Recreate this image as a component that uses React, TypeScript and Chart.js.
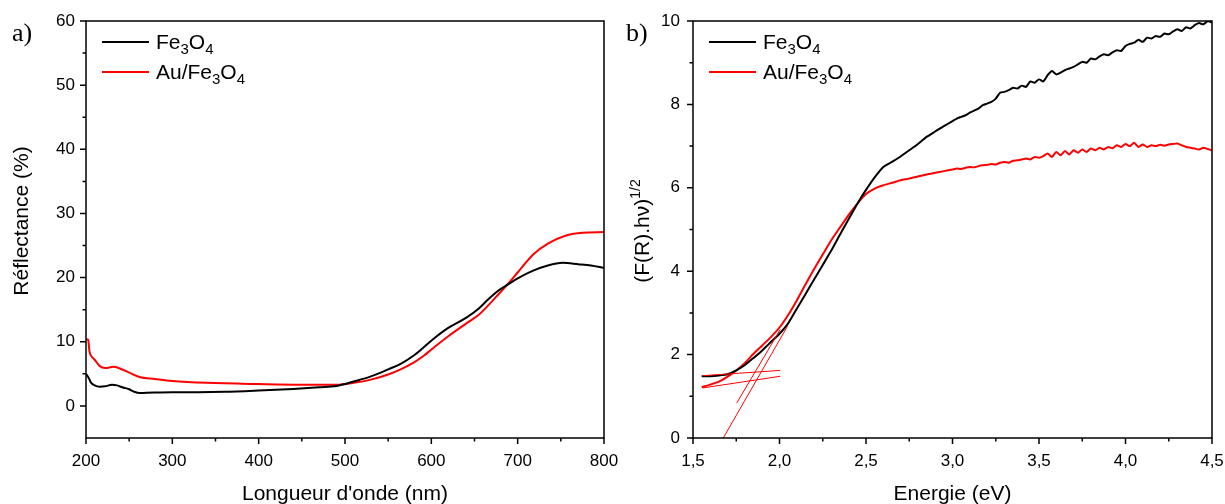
import React, { useEffect, useRef } from 'react';
import { Chart, registerables } from 'chart.js';
Chart.register(...registerables);

const FONT = "'Liberation Sans', Arial, sans-serif";
const SERIF = "'Liberation Serif', 'Times New Roman', serif";

// ---------- Panel a) : Reflectance ----------
const waveFe = [200, 203, 206, 210, 216, 222, 230, 236, 242, 250, 256, 262, 270, 280, 300, 330, 360, 400, 440, 470, 490, 510, 530, 550, 565, 580, 590, 602, 620, 641, 655, 665, 676, 686, 700, 718, 735, 752, 770, 785, 800];
const reflFe = [5.0, 4.4, 3.6, 3.2, 3.0, 3.05, 3.3, 3.2, 2.9, 2.6, 2.2, 2.0, 2.05, 2.1, 2.15, 2.15, 2.2, 2.4, 2.65, 2.9, 3.1, 3.8, 4.6, 5.7, 6.6, 7.9, 9.0, 10.4, 12.2, 13.8, 15.2, 16.5, 17.8, 18.7, 19.9, 21.1, 21.9, 22.3, 22.1, 21.9, 21.5];
const waveAu = [200, 202.5, 204, 206, 210, 216, 222, 232, 240, 250, 262, 280, 300, 340, 400, 450, 490, 510, 530, 550, 565, 580, 590, 602, 620, 641, 655, 664, 675, 686, 700, 718, 735, 757, 775, 800];
const reflAu = [10.4, 10.3, 8.5, 7.8, 7.2, 6.2, 5.9, 6.1, 5.8, 5.2, 4.5, 4.2, 3.9, 3.6, 3.4, 3.3, 3.3, 3.6, 4.1, 4.9, 5.75, 6.8, 7.7, 9.0, 10.9, 12.9, 14.2, 15.4, 17.0, 18.6, 20.8, 23.6, 25.3, 26.6, 27.0, 27.1];
const waveTicks = [200, 300, 400, 500, 600, 700, 800];
const reflTicks = [0, 10, 20, 30, 40, 50, 60];

// ---------- Panel b) : Tauc plot ----------
const energyFe = [1.55, 1.6, 1.65, 1.7, 1.75, 1.8, 1.85, 1.9, 1.95, 2.0, 2.05, 2.1, 2.15, 2.2, 2.25, 2.3, 2.35, 2.4, 2.45, 2.5, 2.55, 2.6, 2.65, 2.7, 2.75, 2.8, 2.85, 2.9, 2.95,
  3.0, 3.025, 3.05, 3.075, 3.1, 3.125, 3.15, 3.175, 3.2, 3.225, 3.25, 3.275, 3.3, 3.325, 3.35, 3.375, 3.4, 3.425, 3.45, 3.475, 3.5, 3.525, 3.55, 3.575, 3.6, 3.625, 3.65, 3.675, 3.7, 3.725, 3.75, 3.775, 3.8, 3.825, 3.85, 3.875, 3.9, 3.925, 3.95, 3.975, 4.0, 4.025, 4.05, 4.075, 4.1, 4.125, 4.15, 4.175, 4.2, 4.225, 4.25, 4.275, 4.3, 4.325, 4.35, 4.375, 4.4, 4.425, 4.45, 4.475, 4.5];
const taucFe = [1.48, 1.48, 1.5, 1.53, 1.62, 1.75, 1.92, 2.1, 2.3, 2.5, 2.75, 3.1, 3.45, 3.8, 4.15, 4.5, 4.88, 5.25, 5.62, 5.95, 6.25, 6.5, 6.62, 6.75, 6.9, 7.05, 7.22, 7.35, 7.48,
  7.6, 7.66, 7.7, 7.74, 7.8, 7.85, 7.9, 7.98, 8.02, 8.06, 8.14, 8.28, 8.3, 8.34, 8.4, 8.38, 8.45, 8.42, 8.55, 8.52, 8.6, 8.55, 8.7, 8.8, 8.72, 8.76, 8.82, 8.86, 8.9, 8.96, 9.02, 9.0, 9.1, 9.08, 9.15, 9.2, 9.18, 9.25, 9.3, 9.28, 9.4, 9.45, 9.48, 9.55, 9.5, 9.6, 9.58, 9.64, 9.62, 9.7, 9.68, 9.75, 9.8, 9.76, 9.85, 9.82, 9.9, 9.95, 9.92, 10.0, 9.96];
const energyAu = [1.55, 1.6, 1.65, 1.7, 1.75, 1.8, 1.85, 1.9, 1.95, 2.0, 2.05, 2.1, 2.15, 2.2, 2.25, 2.3, 2.35, 2.4, 2.45, 2.5, 2.55, 2.6, 2.65, 2.7, 2.75, 2.8, 2.85, 2.9, 2.95,
  3.0, 3.025, 3.05, 3.075, 3.1, 3.125, 3.15, 3.175, 3.2, 3.225, 3.25, 3.275, 3.3, 3.325, 3.35, 3.375, 3.4, 3.425, 3.45, 3.475, 3.5, 3.525, 3.55, 3.575, 3.6, 3.625, 3.65, 3.675, 3.7, 3.725, 3.75, 3.775, 3.8, 3.825, 3.85, 3.875, 3.9, 3.925, 3.95, 3.975, 4.0, 4.025, 4.05, 4.075, 4.1, 4.125, 4.15, 4.175, 4.2, 4.225, 4.25, 4.275, 4.3, 4.325, 4.35, 4.375, 4.4, 4.425, 4.45, 4.475, 4.5];
const taucAu = [1.22, 1.28, 1.35, 1.47, 1.62, 1.8, 2.02, 2.22, 2.42, 2.65, 2.95, 3.3, 3.68, 4.05, 4.4, 4.75, 5.05, 5.35, 5.62, 5.85, 5.98, 6.06, 6.12, 6.18, 6.22, 6.27, 6.32, 6.36, 6.4,
  6.44, 6.46, 6.45, 6.48, 6.5, 6.49, 6.52, 6.54, 6.55, 6.57, 6.56, 6.6, 6.62, 6.6, 6.65, 6.66, 6.68, 6.7, 6.68, 6.74, 6.72, 6.76, 6.82, 6.74, 6.86, 6.78, 6.88, 6.8, 6.9, 6.84, 6.92, 6.86, 6.94, 6.9, 6.96, 6.92, 6.98, 6.95, 7.02, 6.98, 7.05, 7.0, 7.08, 6.98, 7.04, 6.98, 7.02, 7.0, 7.03, 7.01, 7.04, 7.05, 7.06, 7.02, 6.98, 6.96, 6.94, 6.92, 6.96, 6.93, 6.9];
// tangent (Tauc extrapolation) lines: [x1, y1, x2, y2]
const tangentBaseFe = [1.556, 1.495, 2.004, 1.62];
const tangentBaseAu = [1.556, 1.2, 2.004, 1.48];
const tangentSlopeA = [1.753, 0.84, 2.004, 2.6];
const tangentSlopeB = [1.675, 0.0, 2.046, 2.68];
const energyTicks = [1.5, 2.0, 2.5, 3.0, 3.5, 4.0, 4.5];
const taucTicks = [0, 2, 4, 6, 8, 10];

type Seg = { t: string; k?: 'sub' | 'sup' };

function richWidth(ctx: CanvasRenderingContext2D, segs: Seg[], size: number, small: number) {
  let w = 0;
  for (const s of segs) {
    ctx.font = `${s.k ? small : size}px ${FONT}`;
    w += ctx.measureText(s.t).width;
  }
  return w;
}
function drawRich(ctx: CanvasRenderingContext2D, segs: Seg[], x: number, y: number, size: number, small: number, subDy: number, supDy: number) {
  let cx = x;
  ctx.textBaseline = 'alphabetic';
  ctx.textAlign = 'left';
  for (const s of segs) {
    ctx.font = `${s.k ? small : size}px ${FONT}`;
    const dy = s.k === 'sub' ? subDy : s.k === 'sup' ? -supDy : 0;
    ctx.fillText(s.t, cx, y + dy);
    cx += ctx.measureText(s.t).width;
  }
}

const FE: Seg[] = [{ t: 'Fe' }, { t: '3', k: 'sub' }, { t: 'O' }, { t: '4', k: 'sub' }];
const AUFE: Seg[] = [{ t: 'Au/Fe' }, { t: '3', k: 'sub' }, { t: 'O' }, { t: '4', k: 'sub' }];

interface Deco {
  panel: string;
  panelX: number; // canvas coords
  xTitle: Seg[];
  yTitle: Seg[];
  yTitleX: number;
  yTitleY: number;
  xMajor: number[];
  yMajor: number[];
}

function decoPlugin(d: Deco) {
  return {
    id: 'deco',
    afterDraw(chart: any) {
      const ctx: CanvasRenderingContext2D = chart.ctx;
      const { left, right, top, bottom } = chart.chartArea;
      const xs = chart.scales.x, ys = chart.scales.y;
      ctx.save();
      ctx.strokeStyle = '#000';
      ctx.fillStyle = '#000';
      ctx.lineWidth = 1.5;
      ctx.strokeRect(left, top, right - left, bottom - top);
      // ticks
      ctx.beginPath();
      for (const v of d.xMajor) { const p = xs.getPixelForValue(v); ctx.moveTo(p, bottom); ctx.lineTo(p, bottom + 6); }
      for (let i = 0; i < d.xMajor.length - 1; i++) { const p = xs.getPixelForValue((d.xMajor[i] + d.xMajor[i + 1]) / 2); ctx.moveTo(p, bottom); ctx.lineTo(p, bottom + 3.5); }
      for (const v of d.yMajor) { const p = ys.getPixelForValue(v); ctx.moveTo(left, p); ctx.lineTo(left - 6, p); }
      for (let i = 0; i < d.yMajor.length - 1; i++) { const p = ys.getPixelForValue((d.yMajor[i] + d.yMajor[i + 1]) / 2); ctx.moveTo(left, p); ctx.lineTo(left - 3.5, p); }
      ctx.stroke();
      // x title
      const xw = richWidth(ctx, d.xTitle, 21, 14);
      drawRich(ctx, d.xTitle, (left + right) / 2 - xw / 2, 500, 21, 14, 5, 8);
      // y title
      ctx.save();
      ctx.translate(d.yTitleX, d.yTitleY);
      ctx.rotate(-Math.PI / 2);
      const yw = richWidth(ctx, d.yTitle, 21, 14);
      drawRich(ctx, d.yTitle, -yw / 2, 7, 21, 14, 5, 9);
      ctx.restore();
      // legend
      const items: [string, Seg[], number][] = [['#000000', FE, 42], ['#ff0000', AUFE, 72]];
      for (const [col, segs, y] of items) {
        ctx.strokeStyle = col;
        ctx.lineWidth = 2;
        ctx.beginPath();
        ctx.moveTo(left + 16, y);
        ctx.lineTo(left + 63, y);
        ctx.stroke();
        ctx.fillStyle = '#000';
        drawRich(ctx, segs, left + 70, y + 7, 21, 15, 5, 8);
      }
      // panel label
      ctx.font = `26px ${SERIF}`;
      ctx.textAlign = 'left';
      ctx.textBaseline = 'alphabetic';
      ctx.fillText(d.panel, d.panelX, 41);
      ctx.restore();
    },
  };
}

function makeScales(xMin: number, xMax: number, xTicks: number[], yMin: number, yMax: number, yTicks: number[], yWidth: number, yPad: number, xFmt: (v: number) => string) {
  return {
    x: {
      type: 'linear', min: xMin, max: xMax,
      afterBuildTicks: (s: any) => { s.ticks = xTicks.map((v) => ({ value: v })); },
      grid: { display: false, drawTicks: false },
      border: { display: false },
      ticks: { color: '#000', font: { family: FONT, size: 17 }, padding: 13, maxRotation: 0, autoSkip: false, callback: (v: any) => xFmt(Number(v)) },
      afterFit: (s: any) => { s.height = 66; s.paddingLeft = 0; s.paddingRight = 0; },
    },
    y: {
      type: 'linear', min: yMin, max: yMax,
      afterBuildTicks: (s: any) => { s.ticks = yTicks.map((v) => ({ value: v })); },
      grid: { display: false, drawTicks: false },
      border: { display: false },
      ticks: { color: '#000', font: { family: FONT, size: 17 }, padding: yPad, autoSkip: false },
      afterFit: (s: any) => { s.width = yWidth; s.paddingTop = 0; s.paddingBottom = 0; },
    },
  };
}

function pts(xs: number[], ys: number[]) { return xs.map((x, i) => ({ x, y: ys[i] })); }
function seg(a: number[]) { return [{ x: a[0], y: a[1] }, { x: a[2], y: a[3] }]; }

function PanelA() {
  const ref = useRef<HTMLCanvasElement>(null);
  useEffect(() => {
    const chart = new Chart(ref.current!, {
      type: 'line',
      data: {
        datasets: [
          { data: pts(waveFe, reflFe), borderColor: '#000000', borderWidth: 2, pointRadius: 0, cubicInterpolationMode: 'monotone' },
          { data: pts(waveAu, reflAu), borderColor: '#ff0000', borderWidth: 2, pointRadius: 0, cubicInterpolationMode: 'monotone' },
        ],
      } as any,
      options: {
        animation: false, responsive: false, maintainAspectRatio: false,
        layout: { padding: { top: 21, right: 21, left: 0, bottom: 0 } },
        plugins: { legend: { display: false }, tooltip: { enabled: false } },
        scales: makeScales(200, 800, waveTicks, -5, 60, reflTicks, 86, 11, (v) => String(v)) as any,
      },
      plugins: [decoPlugin({
        panel: 'a)', panelX: 12,
        xTitle: [{ t: "Longueur d'onde (nm)" }],
        yTitle: [{ t: 'Réflectance (%)' }],
        yTitleX: 21, yTitleY: 221,
        xMajor: waveTicks, yMajor: reflTicks,
      })],
    });
    return () => chart.destroy();
  }, []);
  return <canvas ref={ref} width={625} height={504} style={{ position: 'absolute', left: 0, top: 0, width: 625, height: 504 }} />;
}

function PanelB() {
  const ref = useRef<HTMLCanvasElement>(null);
  useEffect(() => {
    const thin = { borderColor: '#ff0000', borderWidth: 1, pointRadius: 0, tension: 0 };
    const chart = new Chart(ref.current!, {
      type: 'line',
      data: {
        datasets: [
          { ...thin, data: seg(tangentBaseFe) },
          { ...thin, data: seg(tangentBaseAu) },
          { ...thin, data: seg(tangentSlopeA) },
          { ...thin, data: seg(tangentSlopeB) },
          { data: pts(energyFe, taucFe), borderColor: '#000000', borderWidth: 2, pointRadius: 0, tension: 0.2 },
          { data: pts(energyAu, taucAu), borderColor: '#ff0000', borderWidth: 2, pointRadius: 0, tension: 0.2 },
        ],
      } as any,
      options: {
        animation: false, responsive: false, maintainAspectRatio: false,
        layout: { padding: { top: 21, right: 13, left: 0, bottom: 0 } },
        plugins: { legend: { display: false }, tooltip: { enabled: false } },
        scales: makeScales(1.5, 4.5, energyTicks, 0, 10, taucTicks, 68, 13, (v) => v.toFixed(1).replace('.', ',')) as any,
      },
      plugins: [decoPlugin({
        panel: 'b)', panelX: 1,
        xTitle: [{ t: 'Energie (eV)' }],
        yTitle: [{ t: '(F(R).h\u03BD)' }, { t: '1/2', k: 'sup' }],
        yTitleX: 17, yTitleY: 231,
        xMajor: energyTicks, yMajor: taucTicks,
      })],
    });
    return () => chart.destroy();
  }, []);
  return <canvas ref={ref} width={600} height={504} style={{ position: 'absolute', left: 625, top: 0, width: 600, height: 504 }} />;
}

export default function App() {
  return (
    <div style={{ position: 'absolute', left: 0, top: 0, width: 1225, height: 504, background: '#fff', overflow: 'hidden' }}>
      <PanelA />
      <PanelB />
    </div>
  );
}
